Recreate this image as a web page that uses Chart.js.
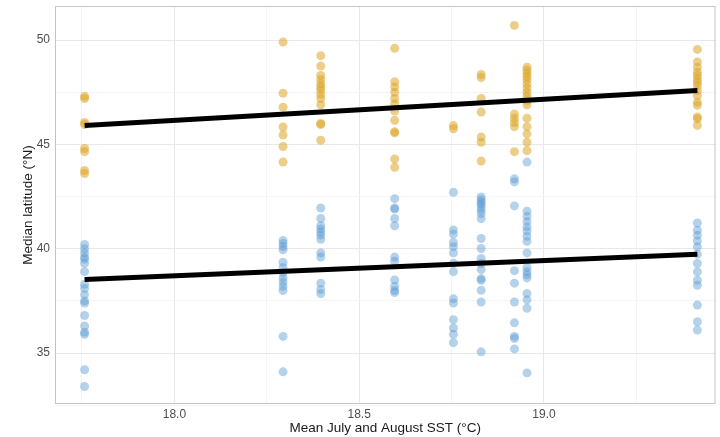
<!DOCTYPE html>
<html>
<head>
<meta charset="utf-8">
<script src="https://cdn.jsdelivr.net/npm/chart.js@4.4.0/dist/chart.umd.min.js"></script>
<style>
    html, body { margin: 0; padding: 0; background: #fff; }
</style>
</head>
<body>
<canvas id="sstChart" width="720" height="437"></canvas>
<script>
/*-----------------------------Data-------------------------------------------------*/
// mean July/August SST of each sampled year (°C)
const sstValues = [17.757, 18.294, 18.396, 18.596, 18.755, 18.83, 18.92, 18.954, 19.415];

// median latitudes (°N) per SST column, northern group (gold)
const upperLat = [
    [47.3, 47.2, 46.05, 45.95, 44.8, 44.65, 43.75, 43.6],
    [49.9, 47.45, 46.78, 45.83, 45.45, 44.9, 44.15],
    [49.25, 48.75, 48.3, 48.1, 47.9, 47.75, 47.6, 47.4, 47.2, 46.9, 46.0, 45.95, 45.2],
    [49.6, 48.0, 47.75, 47.5, 47.2, 46.95, 46.6, 46.15, 45.6, 45.55, 44.3, 43.9],
    [45.9, 45.75],
    [48.35, 48.2, 47.2, 46.55, 45.35, 45.1, 44.2],
    [50.7, 46.45, 46.25, 46.05, 45.85, 44.65],
    [48.7, 48.55, 48.4, 48.25, 48.1, 47.9, 47.7, 47.5, 47.3, 47.1, 46.9, 46.25, 45.85, 45.5, 45.1, 44.7],
    [49.55, 48.95, 48.7, 48.46, 48.3, 48.14, 47.99, 47.82, 47.58, 47.34, 47.02, 46.87, 46.31, 46.23, 45.91]
];

// median latitudes (°N) per SST column, southern group (blue)
const lowerLat = [
    [40.2, 40.0, 39.8, 39.6, 39.5, 39.3, 38.9, 38.3, 38.1, 37.8, 37.5, 37.4, 36.8, 36.3, 36.0, 35.9, 34.2, 33.4],
    [40.4, 40.25, 40.1, 39.95, 39.35, 39.1, 38.85, 38.6, 38.4, 38.2, 38.0, 35.8, 34.1],
    [41.95, 41.45, 41.1, 40.95, 40.8, 40.65, 40.45, 39.8, 39.6, 38.35, 38.05, 37.85],
    [42.4, 41.95, 41.9, 41.45, 41.1, 39.6, 39.4, 38.5, 38.2, 38.0, 37.9],
    [42.7, 40.9, 40.7, 40.3, 40.1, 39.8, 39.3, 38.9, 37.6, 37.4, 36.6, 36.2, 35.9, 35.5],
    [42.48, 42.35, 42.24, 42.13, 42.0, 41.84, 41.68, 41.44, 40.49, 40.01, 39.53, 39.29, 39.0, 38.57, 38.49, 38.01, 37.45, 35.06],
    [43.35, 43.2, 42.05, 38.95, 38.35, 37.45, 36.45, 35.8, 35.7, 35.2],
    [44.15, 41.8, 41.55, 41.3, 41.05, 40.85, 40.6, 40.35, 39.8, 39.1, 38.9, 38.75, 38.6, 37.85, 37.55, 37.15, 34.05],
    [41.23, 40.89, 40.65, 40.37, 40.09, 39.74, 39.29, 38.89, 38.49, 38.25, 37.3, 36.5, 36.1]
];

// fitted regression lines
const fitSst = [17.757, 19.415];
const upperFit = [45.9, 47.58];
const lowerFit = [38.52, 39.74];

// axis ticks (minor grid lines carry an empty label)
const xTicks = [17.75, 18.0, 18.25, 18.5, 18.75, 19.0, 19.25];
const xTickLabels = ['', '18.0', '', '18.5', '', '19.0', ''];
const yTicks = [32.5, 35, 37.5, 40, 42.5, 45, 47.5, 50];
const yTickLabels = ['', '35', '', '40', '', '45', '', '50'];

/*-----------------------------Helpers-------------------------------------------------*/
function toPoints(groups) {
    let pts = [];
    groups.forEach(function (lats, i) {
        lats.forEach(function (lat) {
            pts.push({ x: sstValues[i], y: lat });
        });
    });
    return pts;
}

function toLine(fit) {
    return fitSst.map(function (x, i) { return { x: x, y: fit[i] }; });
}

const fontFamily = '"Liberation Sans", Arial, sans-serif';

// grey frame round the panel, like the ggplot theme
const panelBorder = {
    id: 'panelBorder',
    beforeDatasetsDraw: function (chart) {
        const a = chart.chartArea;
        const c = chart.ctx;
        c.save();
        c.strokeStyle = '#c4c4c4';
        c.lineWidth = 1;
        c.strokeRect(a.left + 0.5, a.top + 0.5, a.right - a.left - 1, a.bottom - a.top - 1);
        c.restore();
    }
};

/*-----------------------------Chart-------------------------------------------------*/
let sstCtx = document.getElementById('sstChart').getContext('2d');

let sstChart = new Chart(sstCtx, {
    type: 'scatter',
    data: {
        datasets: [{
            type: 'line',
            data: toLine(upperFit),
            borderColor: '#000',
            borderWidth: 5,
            pointRadius: 0,
            fill: false,
            order: 0
        }, {
            type: 'line',
            data: toLine(lowerFit),
            borderColor: '#000',
            borderWidth: 5,
            pointRadius: 0,
            fill: false,
            order: 0
        }, {
            data: toPoints(upperLat),
            backgroundColor: 'rgba(221, 165, 40, 0.55)',
            borderWidth: 0,
            pointRadius: 4.5,
            order: 1
        }, {
            data: toPoints(lowerLat),
            backgroundColor: 'rgba(90, 155, 210, 0.45)',
            borderWidth: 0,
            pointRadius: 4.5,
            order: 1
        }]
    },
    options: {
        responsive: false,
        animation: false,
        layout: { padding: { top: 6, right: 0, left: 0, bottom: 0 } },
        plugins: {
            legend: { display: false },
            tooltip: { enabled: false }
        },
        scales: {
            x: {
                type: 'linear',
                min: 17.677,
                max: 19.464,
                afterBuildTicks: function (s) {
                    s.ticks = xTicks.map(function (v) { return { value: v }; });
                },
                afterFit: function (s) {
                    s.height = 33;
                    s.paddingLeft = 0;
                    s.paddingRight = 0;
                },
                ticks: {
                    callback: function (v, i) { return xTickLabels[i]; },
                    color: '#4d4d4d',
                    font: { family: fontFamily, size: 12 },
                    padding: 3,
                    maxRotation: 0,
                    autoSkip: false
                },
                grid: {
                    color: function (c) { return xTickLabels[c.index] ? '#e8e8e8' : '#f4f4f4'; },
                    drawTicks: false
                },
                border: { display: false },
                title: {
                    display: true,
                    text: 'Mean July and August SST (°C)',
                    color: '#1a1a1a',
                    font: { family: fontFamily, size: 13.5 },
                    padding: { top: 0, bottom: 1 }
                }
            },
            y: {
                type: 'linear',
                min: 32.56,
                max: 51.63,
                afterBuildTicks: function (s) {
                    s.ticks = yTicks.map(function (v) { return { value: v }; });
                },
                afterFit: function (s) {
                    s.width = 55;
                    s.paddingTop = 0;
                    s.paddingBottom = 0;
                },
                ticks: {
                    callback: function (v, i) { return yTickLabels[i]; },
                    color: '#4d4d4d',
                    font: { family: fontFamily, size: 12 },
                    padding: 5,
                    autoSkip: false
                },
                grid: {
                    color: function (c) { return yTickLabels[c.index] ? '#e8e8e8' : '#f4f4f4'; },
                    drawTicks: false
                },
                border: { display: false },
                title: {
                    display: true,
                    text: 'Median latitude (°N)',
                    color: '#1a1a1a',
                    font: { family: fontFamily, size: 13.5 },
                    padding: { top: 20, bottom: 0 }
                }
            }
        }
    },
    plugins: [panelBorder]
});
</script>
</body>
</html>
